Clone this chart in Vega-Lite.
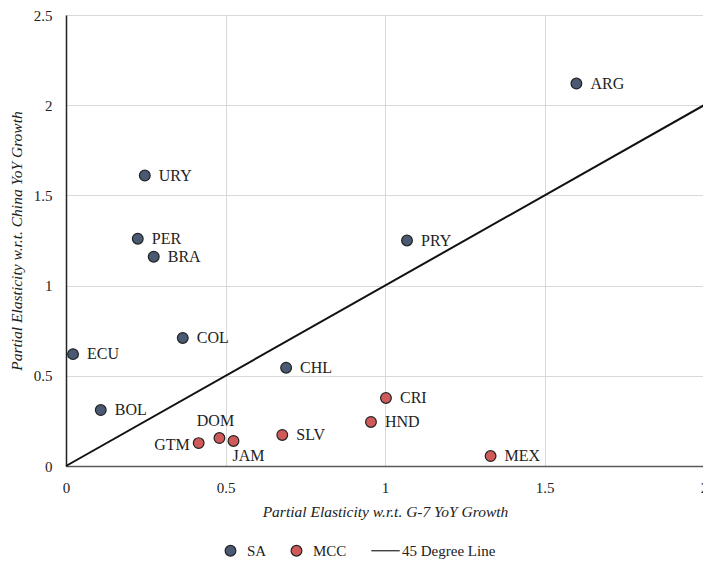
{
  "$schema": "https://vega.github.io/schema/vega-lite/v6.json",
  "autosize": "none",
  "width": 638,
  "height": 451,
  "padding": {"left": 66, "top": 15, "right": 0, "bottom": 97},
  "background": "white",
  "config": {
    "font": "Liberation Serif",
    "view": {"stroke": null},
    "axis": {
      "labelFont": "Liberation Serif",
      "labelFontSize": 15,
      "labelColor": "#222",
      "labelFlush": false,
      "titleFont": "Liberation Serif",
      "titleFontSize": 15.5,
      "titleFontStyle": "italic",
      "titleFontWeight": "normal",
      "titleColor": "#222",
      "gridColor": "#d9d9d9",
      "gridWidth": 1,
      "ticks": false
    }
  },
  "datasets": {
    "countries": [
      {"country": "ARG", "group": "SA", "g7": 1.60, "china": 2.12},
      {"country": "URY", "group": "SA", "g7": 0.247, "china": 1.61},
      {"country": "PER", "group": "SA", "g7": 0.225, "china": 1.26},
      {"country": "BRA", "group": "SA", "g7": 0.275, "china": 1.16},
      {"country": "PRY", "group": "SA", "g7": 1.069, "china": 1.25},
      {"country": "COL", "group": "SA", "g7": 0.366, "china": 0.71},
      {"country": "ECU", "group": "SA", "g7": 0.022, "china": 0.62},
      {"country": "CHL", "group": "SA", "g7": 0.69, "china": 0.545},
      {"country": "BOL", "group": "SA", "g7": 0.109, "china": 0.31},
      {"country": "CRI", "group": "MCC", "g7": 1.003, "china": 0.377},
      {"country": "HND", "group": "MCC", "g7": 0.956, "china": 0.244},
      {"country": "DOM", "group": "MCC", "g7": 0.481, "china": 0.155},
      {"country": "GTM", "group": "MCC", "g7": 0.416, "china": 0.127},
      {"country": "JAM", "group": "MCC", "g7": 0.525, "china": 0.139},
      {"country": "SLV", "group": "MCC", "g7": 0.678, "china": 0.172},
      {"country": "MEX", "group": "MCC", "g7": 1.331, "china": 0.055}
    ],
    "diagonal": [
      {"g7": 0, "china": 0},
      {"g7": 2, "china": 2}
    ]
  },
  "encoding": {
    "x": {
      "field": "g7",
      "type": "quantitative",
      "scale": {"domain": [0, 2], "nice": false, "zero": true},
      "axis": {
        "title": "Partial Elasticity w.r.t. G-7 YoY Growth",
        "values": [0, 0.5, 1, 1.5, 2],
        "format": "~g",
        "labelPadding": 14,
        "titlePadding": 9,
        "domainColor": "#595959",
        "domainWidth": 1.5
      }
    },
    "y": {
      "field": "china",
      "type": "quantitative",
      "scale": {"domain": [0, 2.5], "nice": false},
      "axis": {
        "title": "Partial Elasticity w.r.t. China YoY Growth",
        "values": [0, 0.5, 1, 1.5, 2, 2.5],
        "format": "~g",
        "labelPadding": 14,
        "titlePadding": 9,
        "domainColor": "#222",
        "domainWidth": 1.5
      }
    }
  },
  "layer": [
    {
      "data": {"name": "diagonal"},
      "mark": {"type": "line", "color": "#111", "strokeWidth": 2},
      "encoding": {}
    },
    {
      "data": {"name": "countries"},
      "mark": {"type": "point", "filled": true, "size": 115, "stroke": "#222", "strokeWidth": 1.2, "opacity": 1},
      "encoding": {
        "color": {
          "field": "group",
          "type": "nominal",
          "scale": {"domain": ["SA", "MCC", "45 Degree Line"], "range": ["#4a5a74", "#d05a5a", "#111111"]},
          "legend": {
            "title": null,
            "orient": "none",
            "direction": "horizontal",
            "legendX": 157,
            "legendY": 528,
            "labelFont": "Liberation Serif",
            "labelFontSize": 15,
            "labelColor": "#222",
            "labelOffset": 9,
            "columnPadding": 21,
            "symbolSize": 115,
            "symbolStrokeWidth": 1.2
          }
        },
        "shape": {
          "field": "group",
          "type": "nominal",
          "scale": {"domain": ["SA", "MCC", "45 Degree Line"], "range": ["circle", "circle", "M-2.65,0H2.65"]}
        }
      }
    },
    {
      "data": {"name": "countries"},
      "transform": [{"filter": "indexof(['DOM','GTM','JAM'], datum.country) < 0"}],
      "mark": {"type": "text", "align": "left", "baseline": "middle", "dx": 14, "dy": 0, "fontSize": 16, "color": "#222", "font": "Liberation Serif"},
      "encoding": {"text": {"field": "country"}}
    },
    {
      "data": {"name": "countries"},
      "transform": [{"filter": "datum.country === 'DOM'"}],
      "mark": {"type": "text", "align": "center", "baseline": "middle", "dx": -4, "dy": -17, "fontSize": 16, "color": "#222", "font": "Liberation Serif"},
      "encoding": {"text": {"field": "country"}}
    },
    {
      "data": {"name": "countries"},
      "transform": [{"filter": "datum.country === 'GTM'"}],
      "mark": {"type": "text", "align": "right", "baseline": "middle", "dx": -9, "dy": 2, "fontSize": 16, "color": "#222", "font": "Liberation Serif"},
      "encoding": {"text": {"field": "country"}}
    },
    {
      "data": {"name": "countries"},
      "transform": [{"filter": "datum.country === 'JAM'"}],
      "mark": {"type": "text", "align": "center", "baseline": "middle", "dx": 15, "dy": 15, "fontSize": 16, "color": "#222", "font": "Liberation Serif"},
      "encoding": {"text": {"field": "country"}}
    }
  ]
}
